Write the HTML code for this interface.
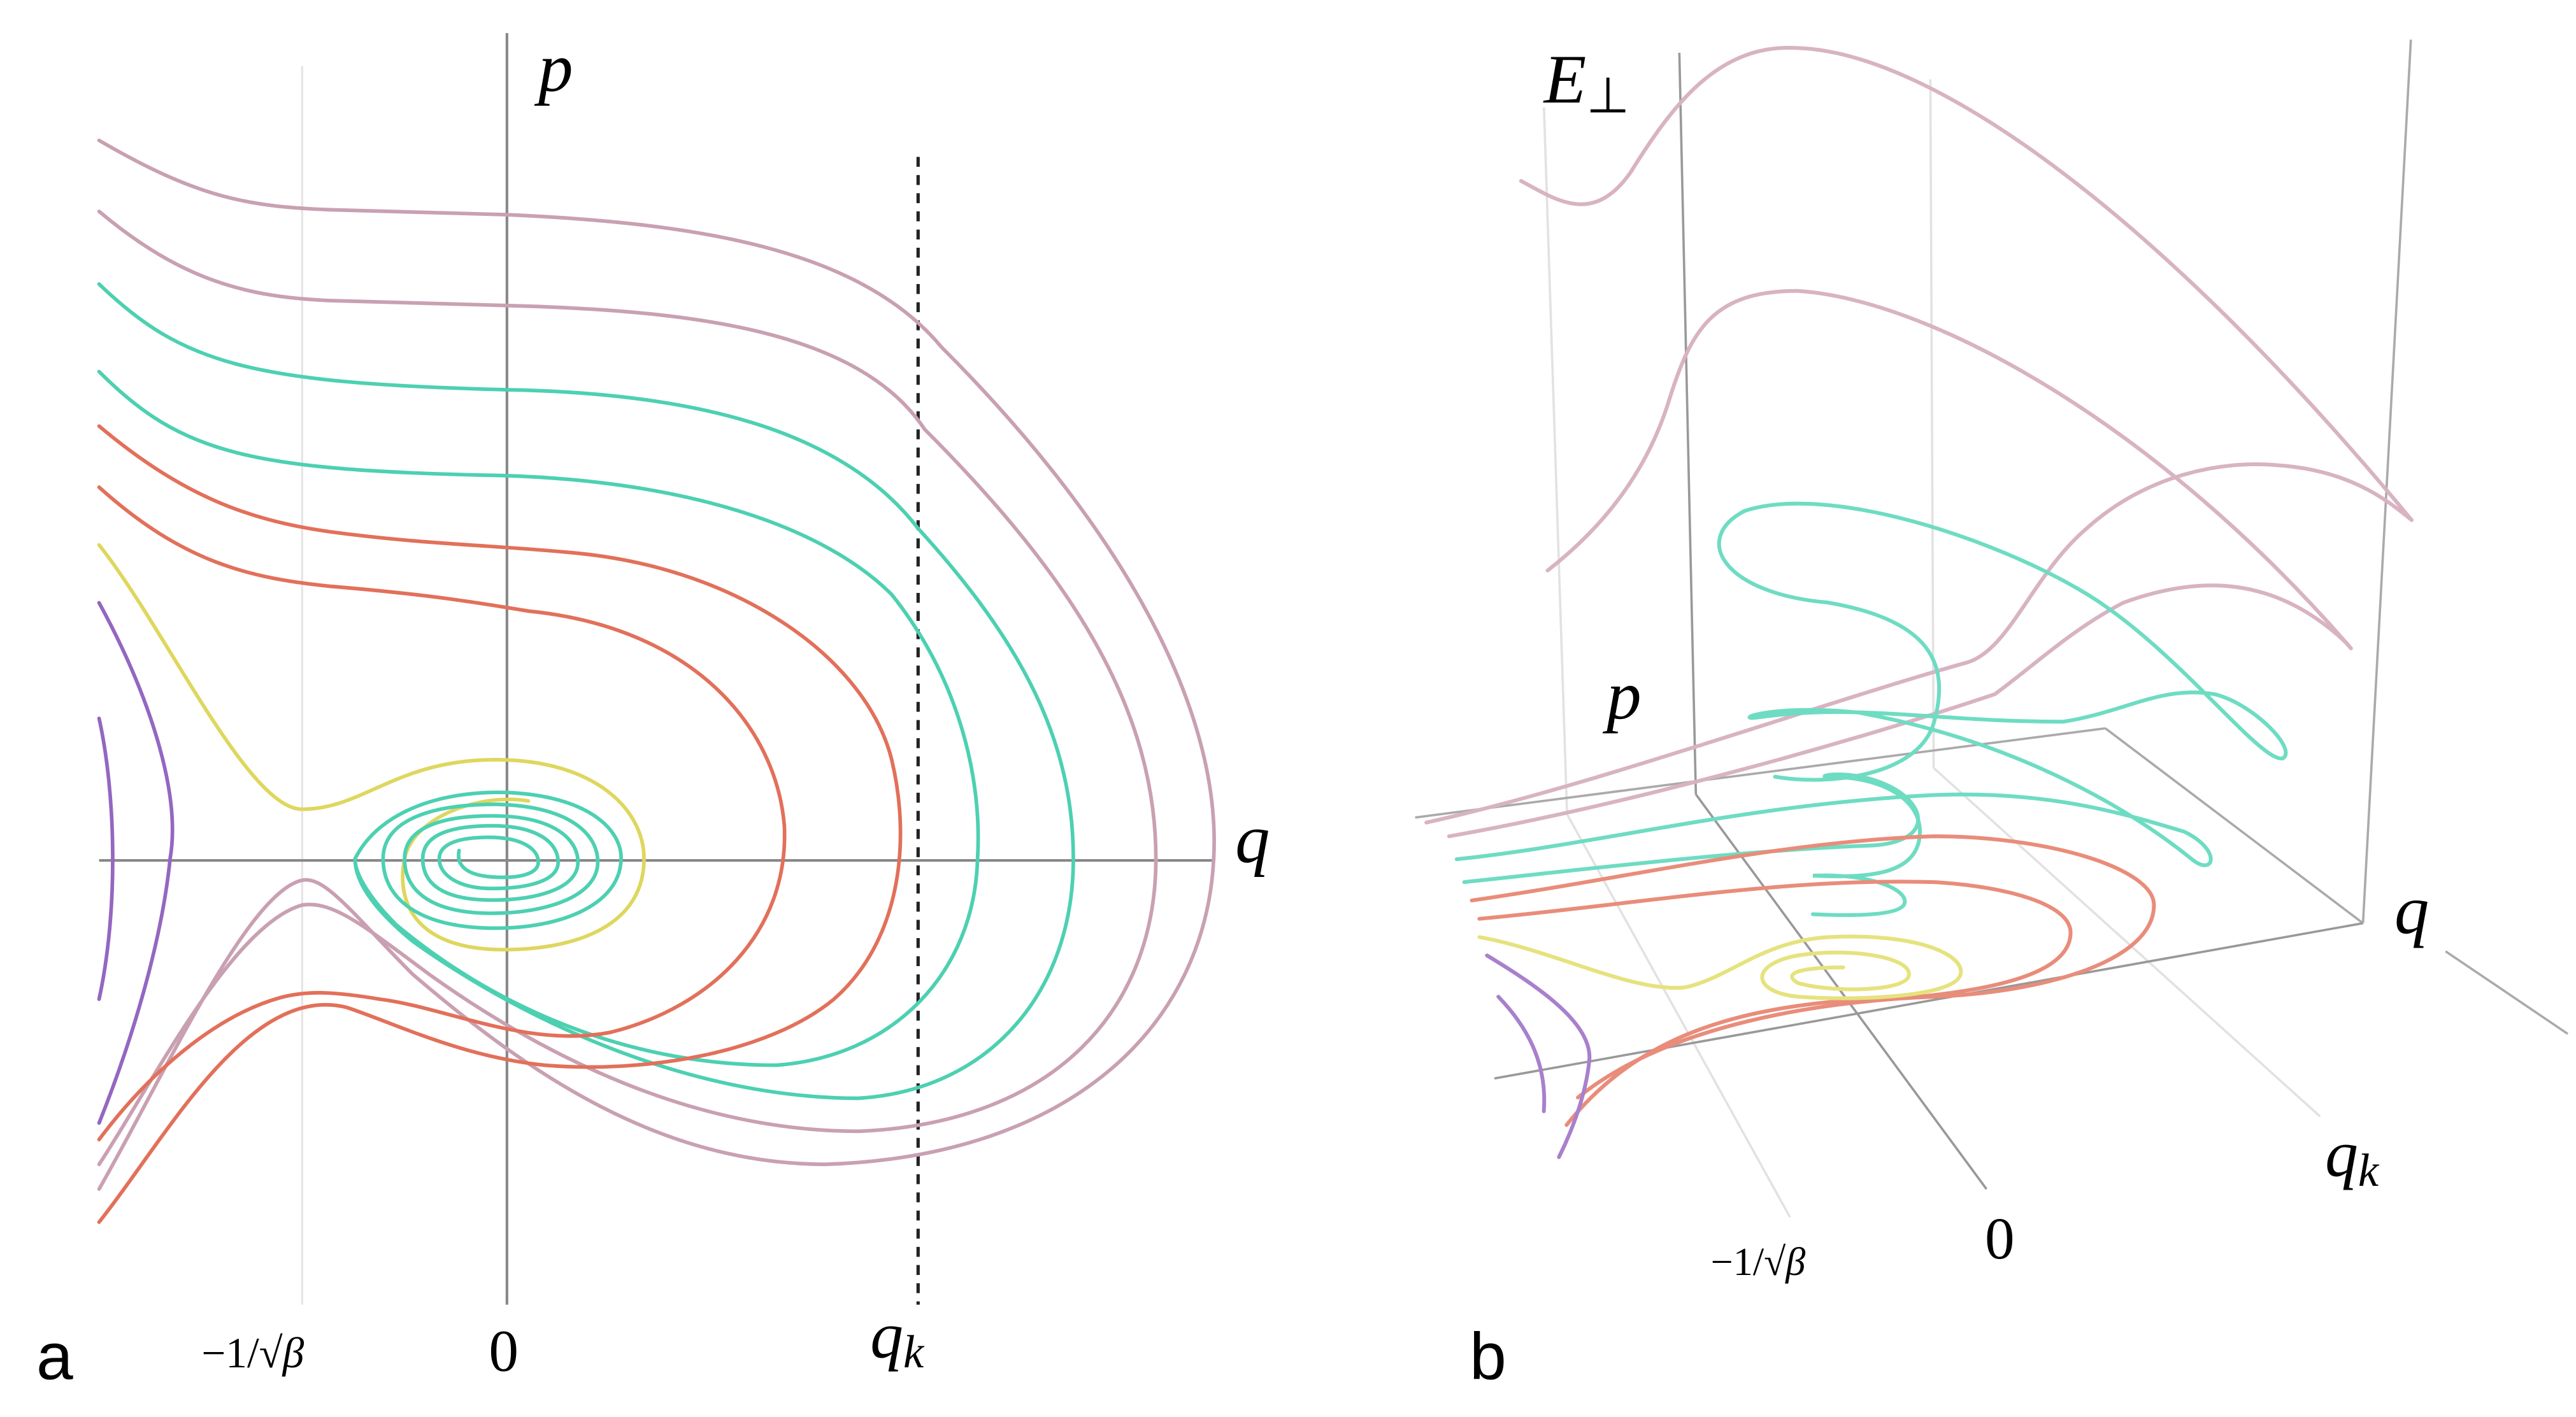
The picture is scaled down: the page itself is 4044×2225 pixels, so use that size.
<!DOCTYPE html>
<html><head><meta charset="utf-8"><style>
html,body{margin:0;padding:0;background:#fff;}
svg{display:block;}
text{font-family:"Liberation Serif",serif;}
</style></head><body>
<svg width="4044" height="2225" viewBox="0 0 1560 858" preserveAspectRatio="none" xmlns="http://www.w3.org/2000/svg">
<rect width="1560" height="858" fill="#fff"/>
<line x1="183" y1="40" x2="183" y2="790" stroke="#e4e4e4" stroke-width="1.2"/>
<line x1="307" y1="20" x2="307" y2="790" stroke="#888" stroke-width="1.6"/>
<line x1="60" y1="521" x2="735" y2="521" stroke="#888" stroke-width="1.6"/>
<line x1="556" y1="95" x2="556" y2="790" stroke="#222" stroke-width="2" stroke-dasharray="6,5"/>
<g fill="none" stroke-width="2.2" stroke-linecap="round">
<path stroke="#c9a0b2" d="M60,85 C120,120 150,125 200,127 L307,130 C420,135 520,150 570,210 C680,320 740,430 735,520 C730,620 650,700 500,705 C400,705 320,650 250,590 C215,555 197,530 183,533 C150,540 100,650 60,720"/>
<path stroke="#c9a0b2" d="M60,128 C110,170 150,180 200,182 L307,185 C420,188 520,200 560,260 C650,350 700,430 700,520 C700,610 640,680 520,685 C420,685 330,640 260,590 C222,562 202,545 183,548 C140,560 90,660 60,705"/>
<path stroke="#4dd0b2" d="M60,172 C110,220 150,232 307,236 C420,238 510,260 556,320 C620,390 650,450 650,520 C650,600 600,660 520,665 C420,665 320,620 250,570 C228,552 215,535 215,520"/>
<path stroke="#4dd0b2" d="M60,225 C110,275 150,285 307,288 C420,292 500,320 540,360 C580,410 595,470 592,520 C590,590 540,640 470,645 C380,645 300,610 240,560 C225,545 215,530 215,520"/>
<path stroke="#e2705a" d="M60,258 C110,300 150,315 200,322 C260,330 300,330 350,335 C450,345 525,400 540,460 C552,510 545,570 505,605 C465,638 390,650 330,645 C280,640 240,620 210,610 C150,595 100,690 60,740"/>
<path stroke="#e2705a" d="M60,295 C110,340 150,350 200,355 C260,360 290,365 320,370 C420,380 470,440 475,500 C478,565 430,610 370,625 C320,635 270,610 230,605 C200,600 185,600 170,604 C130,615 90,650 60,690"/>
<path stroke="#ded75e" d="M60,330 C100,380 150,490 183,490 C220,490 240,460 300,460 C360,460 390,490 390,520 C390,560 350,575 305,575 C250,575 240,545 245,520 C250,495 290,480 320,485"/>
<path stroke="#4dd0b2" d="M215,520 C230,490 270,478 310,480 C360,483 378,505 376,522 C374,548 340,562 300,562 C255,562 232,545 232,520 C232,495 265,487 300,487 C345,488 362,505 362,522 C362,543 330,553 298,553 C262,553 245,540 245,520 C245,500 270,494 298,494 C335,494 350,508 350,522 C350,538 325,545 298,545 C268,545 256,535 256,520 C256,504 276,500 298,500 C325,500 338,510 338,522 C338,534 318,538 298,538 C278,538 266,530 266,520 C266,510 280,507 296,507 C316,507 326,514 326,522 C326,530 312,532 298,531 C284,530 276,525 278,515"/>
<path stroke="#9467c0" d="M60,365 C90,420 110,480 103,520 C98,570 80,630 60,680"/>
<path stroke="#9467c0" d="M60,435 C70,480 72,550 60,605"/>
</g>
<text x="326" y="55" font-size="42" font-style="italic">p</text>
<text x="748" y="522" font-size="42" font-style="italic">q</text>
<text x="527" y="822" font-size="40" font-style="italic">q<tspan font-size="28" dy="6">k</tspan></text>
<text x="296" y="830" font-size="36">0</text>
<text x="122" y="828" font-size="26">−1/√<tspan font-style="italic">β</tspan></text>
<text x="22" y="835" font-size="40" style="font-family:'Liberation Sans',sans-serif">a</text>

<g stroke-width="1.4" fill="none">
<line x1="935" y1="65" x2="949" y2="493" stroke="#e2e2e2"/>
<line x1="949" y1="493" x2="1084" y2="737" stroke="#e2e2e2"/>
<line x1="1169" y1="48" x2="1171" y2="465" stroke="#e2e2e2"/>
<line x1="1171" y1="465" x2="1405" y2="676" stroke="#e2e2e2"/>
<line x1="1017" y1="32" x2="1027" y2="481" stroke="#999"/>
<line x1="1027" y1="481" x2="1203" y2="720" stroke="#999"/>
<line x1="857" y1="495" x2="1275" y2="441" stroke="#aaa"/>
<line x1="1275" y1="441" x2="1431" y2="559" stroke="#aaa"/>
<line x1="905" y1="653" x2="1431" y2="559" stroke="#999"/>
<line x1="1460" y1="24" x2="1431" y2="559" stroke="#aaa"/>
<line x1="1481" y1="576" x2="1555" y2="626" stroke="#aaa"/>
</g>
<g transform="translate(850,-7) scale(0.459,0.555)" fill="none" stroke-linecap="round" stroke-width="6">
<path vector-effect="non-scaling-stroke" stroke="#d8b3c2" d="M155,210 C200,230 250,260 300,200 C360,120 420,60 520,65 C700,70 1000,250 1330,580"/>
<path vector-effect="non-scaling-stroke" stroke="#d8b3c2" d="M190,635 C260,590 320,530 350,450 C380,370 410,330 520,330 C700,340 1000,480 1250,720"/>
<path vector-effect="non-scaling-stroke" stroke="#d8b3c2" d="M30,910 C250,870 550,780 745,735 C800,720 830,640 900,590 C980,530 1080,515 1150,520 C1250,525 1300,560 1330,580"/>
<path vector-effect="non-scaling-stroke" stroke="#d8b3c2" d="M60,925 C300,890 600,820 780,770 C830,740 880,700 950,670 C1050,640 1150,640 1245,715"/>
<path vector-effect="non-scaling-stroke" stroke="#6edcc2" d="M70,950 C250,935 450,890 700,880 C850,875 950,900 1030,920 C1080,940 1070,970 1040,950 C950,890 800,820 600,790 C480,780 430,800 470,795 C600,780 700,800 870,800 C950,790 1000,760 1070,770 C1120,780 1180,830 1160,840 C1130,845 1020,720 900,660 C780,600 560,540 450,570 C380,600 420,660 560,670 C700,690 720,740 700,800 C680,860 560,870 490,860"/>
<path vector-effect="non-scaling-stroke" stroke="#6edcc2" d="M80,975 C250,960 450,940 620,935 C700,930 690,890 640,870 C590,850 540,860 560,860 C640,860 690,890 680,930 C670,970 600,970 540,968 C620,965 670,985 660,1000 C650,1012 590,1012 540,1010"/>
<path vector-effect="non-scaling-stroke" stroke="#e98c7a" d="M90,995 C300,970 500,930 700,925 C850,925 990,960 990,1000 C990,1060 850,1095 700,1100 C550,1105 350,1130 230,1210"/>
<path vector-effect="non-scaling-stroke" stroke="#e98c7a" d="M100,1015 C300,1000 500,970 700,975 C800,980 880,1000 880,1030 C880,1070 800,1090 680,1100 C500,1105 330,1120 215,1240"/>
<path vector-effect="non-scaling-stroke" stroke="#e6e27e" d="M100,1035 C200,1050 300,1095 370,1090 C430,1080 470,1040 560,1035 C680,1030 740,1055 735,1075 C730,1100 600,1105 520,1100 C460,1095 455,1065 520,1055 C600,1045 680,1060 665,1080 C650,1095 560,1095 520,1085 C500,1075 520,1068 580,1068"/>
<path vector-effect="non-scaling-stroke" stroke="#a880cc" d="M110,1055 C180,1090 250,1130 245,1170 C240,1210 220,1250 205,1275"/>
<path vector-effect="non-scaling-stroke" stroke="#a880cc" d="M125,1100 C160,1130 190,1170 185,1225"/>
</g>
<text x="935" y="62" font-size="42" font-style="italic">E<tspan font-size="30" font-style="normal" dy="6">⊥</tspan></text>
<text x="973" y="435" font-size="42" font-style="italic">p</text>
<text x="1450" y="565" font-size="42" font-style="italic">q</text>
<text x="1408" y="712" font-size="40" font-style="italic">q<tspan font-size="28" dy="6">k</tspan></text>
<text x="1202" y="762" font-size="36">0</text>
<text x="1036" y="772" font-size="24">−1/√<tspan font-style="italic">β</tspan></text>
<text x="890" y="835" font-size="40" style="font-family:'Liberation Sans',sans-serif">b</text>
</svg>
</body></html>
